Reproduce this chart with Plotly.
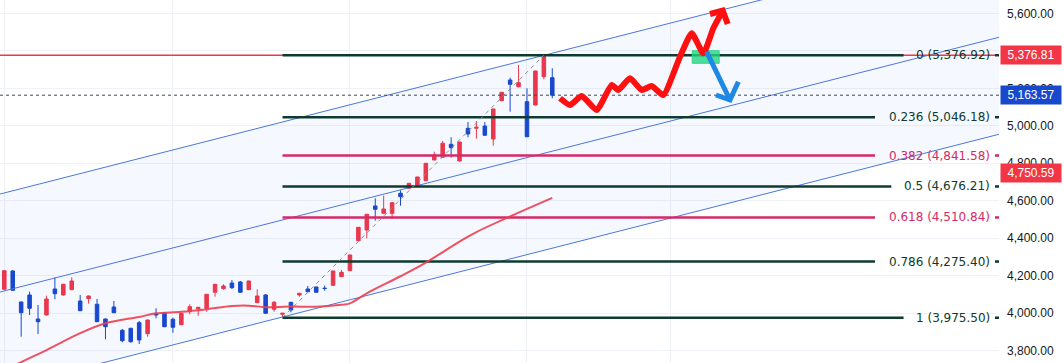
import plotly.graph_objects as go

# ---------------- data ----------------
candle_idx = list(range(66))
opens = [4127.4, 4225.1, 4059.6, 4097.0, 3968.9, 3990.2, 4129.0, 4097.0, 4125.3, 4065.0,
         4077.3, 4047.3, 3968.9, 4032.9, 3908.6, 3919.2, 3949.1, 3890.4, 3997.2, 4000.9,
         3967.3, 3938.4, 4007.8, 4022.3, 4026.0, 4111.4, 4130.6, 4161.0, 4166.4, 4125.3,
         4055.9, 4097.0, 4020.7, 3994.0, 4058.0, 4097.0, 4129.0, 4139.7, 4133.5, 4148.8,
         4194.7, 4226.7, 4386.8, 4444.0, 4572.1, 4533.1, 4533.1, 4639.9, 4666.6, 4684.2,
         4707.1, 4817.6, 4832.0, 4901.4, 4812.3, 4986.8, 4987.0, 4999.1, 4929.7, 5134.2,
         5244.7, 5208.9, 5128.8, 5111.2, 5262.3, 5256.9]
highs = [4230.0, 4230.4, 4062.0, 4114.6, 4043.6, 4093.3, 4191.5, 4156.0, 4191.5, 4097.0,
         4093.0, 4075.6, 3971.0, 4065.0, 3915.5, 3921.0, 3958.2, 3965.0, 4026.0, 4003.0,
         3975.8, 4001.0, 4047.3, 4033.0, 4102.0, 4156.0, 4154.1, 4177.1, 4171.7, 4173.0,
         4127.4, 4102.0, 4065.0, 4001.0, 4060.0, 4108.0, 4145.0, 4141.0, 4147.0, 4227.0,
         4230.4, 4312.0, 4460.0, 4529.0, 4613.2, 4627.1, 4591.0, 4655.9, 4695.0, 4728.0,
         4802.0, 4861.9, 4919.0, 4938.8, 4915.0, 5020.5, 5025.8, 5020.0, 5091.0, 5181.0,
         5256.9, 5324.7, 5200.4, 5295.0, 5376.92, 5307.1]
lows = [4125.0, 4120.0, 3874.4, 3990.2, 3888.8, 3988.0, 4074.0, 4093.3, 4123.0, 4011.0,
        4050.6, 3952.0, 3860.5, 4000.0, 3844.5, 3842.4, 3835.4, 3874.4, 3972.6, 3925.0,
        3895.8, 3936.0, 3994.0, 3986.5, 4007.8, 4087.9, 4125.3, 4129.0, 4109.0, 4123.0,
        4054.0, 3997.0, 4007.8, 3975.5, 4004.6, 4087.9, 4113.0, 4110.0, 4120.0, 4147.0,
        4193.0, 4225.0, 4385.0, 4399.6, 4493.6, 4531.0, 4504.3, 4573.7, 4665.0, 4683.0,
        4705.0, 4816.0, 4830.0, 4829.9, 4810.0, 4938.8, 4931.3, 4947.0, 4894.0, 5132.0,
        5075.4, 5205.0, 4938.8, 5109.0, 5248.4, 5147.0]
closes = [4226.7, 4122.1, 4002.5, 4026.0, 3954.5, 4075.6, 4103.9, 4154.1, 4171.7, 4013.2,
          4091.7, 3954.5, 3927.8, 4002.5, 3853.0, 3847.7, 3856.8, 3963.5, 3990.2, 3927.8,
          3924.6, 3999.3, 4034.5, 4031.3, 4100.7, 4154.1, 4145.0, 4136.0, 4111.4, 4171.7,
          4091.7, 3999.3, 4058.0, 3999.3, 4016.9, 4106.0, 4114.6, 4111.4, 4131.5, 4225.1,
          4218.1, 4310.5, 4458.4, 4527.8, 4554.5, 4556.1, 4589.7, 4621.7, 4693.2, 4726.9,
          4800.0, 4844.3, 4906.8, 4883.3, 4913.7, 4956.4, 4992.2, 4949.5, 5089.9, 5179.0,
          5221.7, 5230.2, 4942.0, 5292.7, 5370.0, 5163.57]

ma_idx = [1, 2, 5, 9, 12, 16, 18, 21, 24, 27, 29, 31, 34, 37, 40, 41, 43, 47, 50, 54, 56, 65]
ma_vals = [3717, 3739, 3803, 3893, 3946, 3980, 3999, 4007, 4021, 4038, 4040, 4032, 4035,
           4034, 4045, 4052, 4106, 4197, 4270, 4382, 4433, 4615]

fib_ratios = [0, 0.236, 0.382, 0.5, 0.618, 0.786, 1]
fib_prices = [5376.92, 5046.18, 4841.58, 4676.21, 4510.84, 4275.40, 3975.50]
swing_idx = [33, 64]
swing_prices = [3975.50, 5376.92]

channel_idx = [-0.5, 118]
channel_upper = [4636, 5996]
channel_mid = [4113, 5473]
channel_lower = [3595, 4955]

hline_price = 5376.81
last_price = 5163.57
ma_last = 4750.59

y_ticks = [3800, 4000, 4200, 4400, 4600, 4800, 5000, 5200, 5400, 5600]
month_idx = [0, 20, 41, 62, 79]

# hand-drawn forecast sketch (index, price)
red_path_idx = [65.92, 67.1, 68.49, 70.27, 72.05, 72.83, 74.22, 75.61, 76.8, 78.17,
                80.15, 81.54, 82.92, 84.1, 85.22]
red_path_price = [5147.0, 5111.2, 5159.3, 5084.5, 5218.0, 5191.3, 5253.7, 5191.3, 5212.6,
                  5164.6, 5369.0, 5493.9, 5387.2, 5520.6, 5614.6]
red_head_idx = [83.71, 85.22, 85.81]
red_head_price = [5597.0, 5614.6, 5543.6]
blue_path_idx = [83.3, 86.08]
blue_path_price = [5395.7, 5137.9]
blue_head_idx = [84.42, 86.08, 87.07]
blue_head_price = [5164.6, 5137.9, 5235.6]
box_idx = [81.6, 84.8]
box_price = [5333.8, 5401.1]

# ---------------- styling ----------------
RED = "#f23645"
BLUE = "#1848cc"
DARK = "#0e3b2e"
PINK = "#d42a66"
CH_LINE = "#4a78d9"
X_RANGE = [-0.51, 117.99]
Y_RANGE = [3733.9, 5671.7]
PX_PER_UNIT = 999 / (X_RANGE[1] - X_RANGE[0])
FIB_FONT = 12
CW = {c: 0.636 for c in "0123456789"}
CW.update({".": 0.318, ",": 0.318, " ": 0.318, "(": 0.39, ")": 0.39})


def text_w(s, size):
    return sum(CW.get(c, 0.6) for c in s) * size * 1.07


fig = go.Figure()

# channel fill + lines
fig.add_trace(go.Scatter(x=channel_idx, y=channel_lower, mode="lines",
                         line=dict(color=CH_LINE, width=1), hoverinfo="skip"))
fig.add_trace(go.Scatter(x=channel_idx, y=channel_upper, mode="lines",
                         line=dict(color=CH_LINE, width=1), fill="tonexty",
                         fillcolor="rgba(41,98,255,0.045)", hoverinfo="skip"))
fig.add_trace(go.Scatter(x=channel_idx, y=channel_mid, mode="lines",
                         line=dict(color=CH_LINE, width=1), hoverinfo="skip"))

# horizontal red line and last-price dotted line
fig.add_trace(go.Scatter(x=X_RANGE, y=[hline_price] * 2, mode="lines",
                         line=dict(color=RED, width=1.5), hoverinfo="skip"))
fig.add_trace(go.Scatter(x=X_RANGE, y=[last_price] * 2, mode="lines",
                         line=dict(color="#434651", width=1, dash="dot"), hoverinfo="skip"))

# fibonacci levels
annotations = []
text_right_px = 989
anchor_x = (text_right_px + 3 - 4.3) / PX_PER_UNIT
text_right = (text_right_px - 4.3) / PX_PER_UNIT
for r, p in zip(fib_ratios, fib_prices):
    col = PINK if r in (0.382, 0.618) else DARK
    txt = f"{r} ({p:,.2f})"
    w = text_w(txt, FIB_FONT)
    left_end = text_right - (w + 6) / PX_PER_UNIT
    right_start = text_right + 6 / PX_PER_UNIT
    fig.add_trace(go.Scatter(x=[swing_idx[0], left_end, None, right_start, X_RANGE[1]],
                             y=[p, p, None, p, p], mode="lines",
                             line=dict(color=col, width=2.5), hoverinfo="skip"))
    annotations.append(dict(x=anchor_x, y=p, xref="x", yref="y", text=txt,
                            showarrow=False, xanchor="right", yanchor="middle",
                            font=dict(family="DejaVu Sans", size=FIB_FONT, color=col)))

# fib trend line
fig.add_trace(go.Scatter(x=swing_idx, y=swing_prices, mode="lines",
                         line=dict(color="#8c8c8c", width=1, dash="4px,4px"), hoverinfo="skip"))

# moving average
fig.add_trace(go.Scatter(x=ma_idx, y=ma_vals, mode="lines", line_shape="spline",
                         line=dict(color="#ee3f50", width=2), opacity=0.9, hoverinfo="skip"))

# candles
fig.add_trace(go.Candlestick(x=candle_idx, open=opens, high=highs, low=lows, close=closes,
                             increasing=dict(line=dict(color=RED, width=1), fillcolor=RED),
                             decreasing=dict(line=dict(color=BLUE, width=1), fillcolor=BLUE),
                             hoverinfo="skip"))

# sketch
fig.add_trace(go.Scatter(x=[box_idx[0], box_idx[1], box_idx[1], box_idx[0], box_idx[0]],
                         y=[box_price[0], box_price[0], box_price[1], box_price[1], box_price[0]],
                         mode="lines", fill="toself", fillcolor="rgba(38,214,130,0.8)",
                         line=dict(color="rgba(38,214,130,0.9)", width=1), hoverinfo="skip"))
fig.add_trace(go.Scatter(x=red_path_idx, y=red_path_price, mode="lines",
                         line=dict(color="#ff1010", width=6, shape="spline", smoothing=0.5),
                         hoverinfo="skip"))
fig.add_trace(go.Scatter(x=red_head_idx, y=red_head_price, mode="lines",
                         line=dict(color="#ff1010", width=6), hoverinfo="skip"))
fig.add_trace(go.Scatter(x=blue_path_idx, y=blue_path_price, mode="lines",
                         line=dict(color="#1e88e5", width=5), hoverinfo="skip"))
fig.add_trace(go.Scatter(x=blue_head_idx, y=blue_head_price, mode="lines",
                         line=dict(color="#1e88e5", width=5), hoverinfo="skip"))

# price labels on the axis
for val, col in [(hline_price, RED), (last_price, BLUE), (ma_last, RED)]:
    annotations.append(dict(x=1.0, y=val, xref="paper", yref="y", text=f"{val:,.2f}",
                            showarrow=False, xanchor="left", yanchor="middle", xshift=1,
                            width=58, height=16, align="center", bgcolor=col,
                            font=dict(family="Liberation Sans", size=12, color="white")))

fig.update_layout(
    width=1064, height=363, autosize=False,
    margin=dict(l=0, r=65, t=0, b=0),
    paper_bgcolor="white", plot_bgcolor="white",
    showlegend=False, hovermode=False,
    boxgap=0.4,
    annotations=annotations,
    xaxis=dict(range=X_RANGE, tickvals=month_idx, showticklabels=False, showgrid=True,
               gridcolor="#eef1f6", zeroline=False, showline=False, rangeslider=dict(visible=False)),
    yaxis=dict(range=Y_RANGE, side="right", tickvals=y_ticks, tickformat=",.2f",
               showgrid=True, gridcolor="#eef1f6", zeroline=False, showline=False,
               ticks="", ticklabelstandoff=7,
               tickfont=dict(family="Liberation Sans", size=12, color="#131722")),
)

fig.write_html("out.html")
